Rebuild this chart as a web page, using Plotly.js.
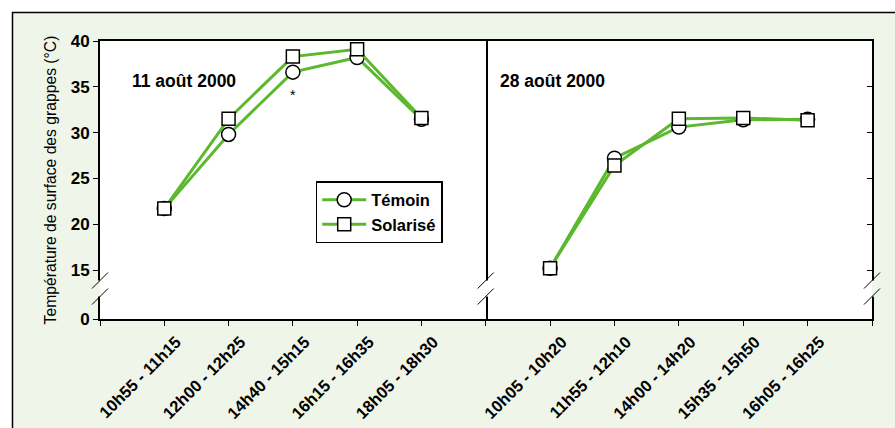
<!DOCTYPE html>
<html>
<head>
<meta charset="utf-8">
<script src="https://cdn.plot.ly/plotly-3.0.1.min.js"></script>
<style>
  html, body { margin: 0; padding: 0; background: #ffffff; }
  #chart { width: 895px; height: 428px; }
</style>
</head>
<body>
<div id="chart"></div>
<script>
// ---- data ----
const categories11 = ['10h55 - 11h15', '12h00 - 12h25', '14h40 - 15h15', '16h15 - 16h35', '18h05 - 18h30'];
const categories28 = ['10h05 - 10h20', '11h55 - 12h10', '14h00 - 14h20', '15h35 - 15h50', '16h05 - 16h25'];
const temoin11   = [21.7, 29.8, 36.6, 38.2, 31.45];
const solarise11 = [21.7, 31.5, 38.3, 39.1, 31.6];
const temoin28   = [15.2, 27.2, 30.6, 31.4, 31.45];
const solarise28 = [15.2, 26.4, 31.5, 31.6, 31.35];
const seriesNames = ['Témoin', 'Solarisé'];
const panelTitles = ['11 août 2000', '28 août 2000'];
const yTickLabels = ['0', '15', '20', '25', '30', '35', '40'];
const yTickNumbers = [15, 20, 25, 30, 35, 40];
const significance = ['', '', '*', '', ''];

// ---- styling / layout helpers ----
const FONT = 'Liberation Sans, Arial, sans-serif';
const GREEN = '#5cb82e';
const BG = '#eff5e8';
const yBreakBase = 9.65;          // axis position used for the "0" label below the break
const yTickVals = [yBreakBase].concat(yTickNumbers);
const breakCenters = [13.85, 12.1];
const xIdx = categories11.map((c, i) => i + 1);
const xTickVals = [0, 1, 2, 3, 4, 5, 6];
const tickText11 = [''].concat(categories11, ['']);
const tickText28 = [''].concat(categories28, ['']);

function series(x, y, name, symbol, xa, ya, showlegend) {
  return {
    type: 'scatter', mode: 'lines+markers', x: x, y: y, name: name,
    xaxis: xa, yaxis: ya, legendgroup: name, showlegend: showlegend,
    line: { color: GREEN, width: 3 },
    marker: { symbol: symbol, size: symbol === 'circle' ? 14 : 13, color: '#ffffff',
              line: { color: '#000000', width: 1.5 } },
    hoverinfo: 'x+y'
  };
}

const traces = [
  series(xIdx, temoin11, seriesNames[0], 'circle', 'x', 'y', true),
  series(xIdx, solarise11, seriesNames[1], 'square', 'x', 'y', true),
  series(xIdx, temoin28, seriesNames[0], 'circle', 'x2', 'y2', false),
  series(xIdx, solarise28, seriesNames[1], 'square', 'x2', 'y2', false)
];

const tickFont = { family: FONT, size: 17, color: '#000000', weight: 'bold' };
const xTickFont = { family: FONT, size: 16.5, color: '#000000', weight: 'bold' };
const divider = 0.4996;

function xAxis(domain, text, anchor) {
  return {
    domain: domain, range: [0, 6], anchor: anchor,
    tickmode: 'array', tickvals: xTickVals, ticktext: text,
    tickangle: -45, ticks: 'outside', ticklen: 5, tickwidth: 1, tickcolor: '#000',
    ticklabelshift: 12, ticklabelstandoff: 0,
    showline: true, linecolor: '#000', linewidth: 2, mirror: true,
    showgrid: false, zeroline: false, tickfont: xTickFont, fixedrange: true
  };
}

const shapes = [];
// outer frame with light green fill
shapes.push({ type: 'rect', xref: 'paper', yref: 'paper', layer: 'below',
  x0: (12.5 - 100) / 772, x1: (905 - 100) / 772, y0: (319 - 440) / 278, y1: (319 - 12.5) / 278,
  fillcolor: BG, line: { color: '#000000', width: 1.5 } });
// white plotting area
shapes.push({ type: 'rect', xref: 'paper', yref: 'paper', layer: 'below',
  x0: 0, x1: 1, y0: 0, y1: 1, fillcolor: '#ffffff', line: { width: 0 } });

// axis-break markers on the three vertical axis lines
[[0, BG, '#ffffff'], [divider, '#ffffff', '#ffffff'], [1, '#ffffff', BG]].forEach(function (d) {
  shapes.push({ type: 'rect', xref: 'paper', xsizemode: 'pixel', xanchor: d[0], x0: -4, x1: 0,
    yref: 'y', y0: breakCenters[1], y1: breakCenters[0], fillcolor: d[1], line: { width: 0 } });
  shapes.push({ type: 'rect', xref: 'paper', xsizemode: 'pixel', xanchor: d[0], x0: 0, x1: 4,
    yref: 'y', y0: breakCenters[1], y1: breakCenters[0], fillcolor: d[2], line: { width: 0 } });
  breakCenters.forEach(function (c) {
    shapes.push({ type: 'line', xref: 'paper', xsizemode: 'pixel', xanchor: d[0], x0: -8, x1: 8,
      yref: 'y', ysizemode: 'pixel', yanchor: c, y0: -8, y1: 8,
      line: { color: '#000000', width: 1 } });
  });
});

const annotations = [
  { xref: 'paper', yref: 'paper', x: (130 - 100) / 772, y: (319 - 81) / 278, xanchor: 'left', yanchor: 'middle',
    text: panelTitles[0], showarrow: false, font: { family: FONT, size: 17.5, color: '#000', weight: 'bold' } },
  { xref: 'paper', yref: 'paper', x: (498 - 100) / 772, y: (319 - 81) / 278, xanchor: 'left', yanchor: 'middle',
    text: panelTitles[1], showarrow: false, font: { family: FONT, size: 17.5, color: '#000', weight: 'bold' } }
];
significance.forEach(function (s, i) {
  if (s) {
    annotations.push({ xref: 'x', yref: 'y', x: xIdx[i], y: temoin11[i], yshift: -23,
      text: s, showarrow: false, font: { family: FONT, size: 14, color: '#000' } });
  }
});

const layout = {
  width: 895, height: 428,
  margin: { l: 100, r: 23, t: 41, b: 109, pad: 0 },
  paper_bgcolor: '#ffffff', plot_bgcolor: 'rgba(0,0,0,0)',
  font: { family: FONT, color: '#000000' },
  showlegend: true,
  legend: {
    x: (315.7 - 100) / 772, y: (319 - 181) / 278, xanchor: 'left', yanchor: 'top',
    bgcolor: '#ffffff', bordercolor: '#000000', borderwidth: 1.5,
    font: { family: FONT, size: 16.5, color: '#000', weight: 'bold' },
    itemwidth: 44, tracegroupgap: 0
  },
  xaxis: xAxis([0, divider], tickText11, 'y'),
  xaxis2: xAxis([divider, 1], tickText28, 'y2'),
  yaxis: {
    range: [yBreakBase, 40], anchor: 'x', tickmode: 'array', tickvals: yTickVals, ticktext: yTickLabels,
    ticks: 'outside', ticklen: 5, tickwidth: 1, tickcolor: '#000',
    showline: true, linecolor: '#000', linewidth: 2, mirror: true,
    showgrid: false, zeroline: false, tickfont: tickFont, fixedrange: true,
    title: { text: 'Température de surface des grappes (°C)', standoff: 10,
             font: { family: FONT, size: 15.7, color: '#000' } }
  },
  yaxis2: {
    range: [yBreakBase, 40], anchor: 'x2', side: 'right', tickmode: 'array', tickvals: yTickVals.slice(1, 6),
    ticks: 'inside', ticklen: 5, tickwidth: 1, tickcolor: '#000', showticklabels: false,
    showline: true, linecolor: '#000', linewidth: 2,
    showgrid: false, zeroline: false, fixedrange: true
  },
  shapes: shapes,
  annotations: annotations
};

Plotly.newPlot('chart', traces, layout, { displayModeBar: false, staticPlot: true });
</script>
</body>
</html>
